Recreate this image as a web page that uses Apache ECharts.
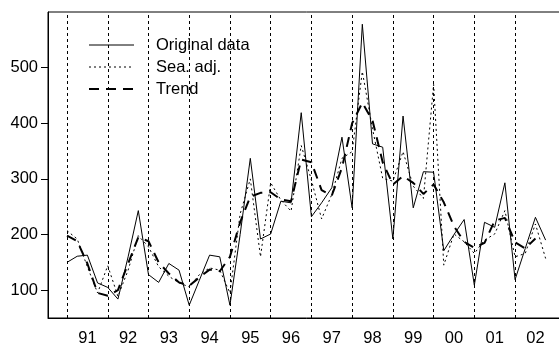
<!DOCTYPE html>
<html>
<head>
<meta charset="utf-8">
<script src="https://cdn.jsdelivr.net/npm/echarts@6/dist/echarts.min.js"></script>
<style>
html,body{margin:0;padding:0;overflow:hidden;background:#fff;}
#c{width:600px;height:347px;}
</style>
</head>
<body>
<div id="c"></div>
<script>
// Year boundaries (vertical dotted lines) and their tick labels
const years = [1991,1992,1993,1994,1995,1996,1997,1998,1999,2000,2001,2002];
const yearLabels = ['91','92','93','94','95','96','97','98','99','00','01','02'];
const startYear = 1991;      // first quarter of the series
const quartersPerYear = 4;
const yTicks = [100,200,300,400,500];

// Quarterly values 1991Q1 .. 2002Q4
const original = [150,161,163,113,105,84,160,243,
                  128,114,148,136,73,118,163,160,
                  73,200,337,192,201,260,257,419,
                  232,257,284,375,248,578,363,357,
                  192,413,248,313,312,171,200,227,
                  109,222,213,293,119,175,231,190];
const seasAdj = [207,192,142,95,144,89,136,198,
                 178,142,125,113,106,128,140,136,
                 95,237,300,160,293,262,242,360,
                 298,228,272,337,349,493,390,301,
                 296,349,287,265,470,145,201,187,
                 166,190,201,243,160,166,219,157];
const trend = [198,188,148,95,90,100,148,195,
               188,150,130,114,108,123,137,134,
               160,222,268,275,276,263,260,335,
               330,280,270,320,400,437,405,330,
               290,305,293,273,290,258,215,187,
               176,185,225,230,186,175,193,null];

const toXY = arr => arr.map((v,i) => [startYear + i/quartersPerYear, v]);

const styles = {
  'Original data': {color:'#000', width:1, type:'solid'},
  'Sea. adj.': {color:'#000', width:1, type:[2,3]},
  'Trend': {color:'#000', width:2, type:[10,7]}
};

const chart = echarts.init(document.getElementById('c'), null, {renderer:'canvas'});
const font = 'Liberation Sans, Arial, Helvetica, sans-serif';
chart.setOption({
  animation:false,
  backgroundColor:'#fff',
  textStyle:{fontFamily:font},
  grid:{left:48, top:12, width:517, height:310, show:true, borderColor:'#000', borderWidth:1, backgroundColor:'transparent'},
  legend:{
    orient:'vertical', left:88, top:36, padding:0, itemGap:4,
    itemWidth:45, itemHeight:14,
    itemStyle:{opacity:0},
    textStyle:{fontSize:16.5, color:'#000', fontFamily:font, lineHeight:18, padding:[0,0,0,17]},
    data:Object.keys(styles).map(n => ({name:n, lineStyle:styles[n], itemStyle:{opacity:0}}))
  },
  xAxis:{
    type:'value', min:1990.533, max:2003.226,
    axisLine:{show:true, lineStyle:{color:'#000', width:1}},
    axisTick:{show:false},
    splitLine:{show:false},
    axisLabel:{
      customValues: years.map(y => y + 0.5),
      formatter: v => yearLabels[years.indexOf(Math.round(v - 0.5))],
      fontSize:16.5, color:'#000', fontFamily:font, margin:12
    }
  },
  yAxis:{
    type:'value', min:50, max:600,
    axisLine:{show:true, lineStyle:{color:'#000', width:1}},
    axisTick:{show:true, customValues:yTicks, length:7, lineStyle:{color:'#000'}},
    splitLine:{show:false},
    axisLabel:{customValues:yTicks, fontSize:16.5, color:'#000', fontFamily:font, margin:10}
  },
  series:[
    {
      name:'Original data', type:'line', symbol:'none', data:toXY(original),
      lineStyle:styles['Original data'],
      itemStyle:{color:'#000'},
      markLine:{
        silent:true, symbol:'none', label:{show:false}, animation:false,
        lineStyle:{color:'#000', width:1, type:[3,3]},
        emphasis:{disabled:true},
        data: years.map(y => ({xAxis:y}))
      }
    },
    {
      name:'Sea. adj.', type:'line', symbol:'none', data:toXY(seasAdj),
      lineStyle:styles['Sea. adj.'],
      itemStyle:{color:'#000'}
    },
    {
      name:'Trend', type:'line', symbol:'none', data:toXY(trend),
      lineStyle:styles['Trend'],
      itemStyle:{color:'#000'}
    }
  ]
});
</script>
</body>
</html>
